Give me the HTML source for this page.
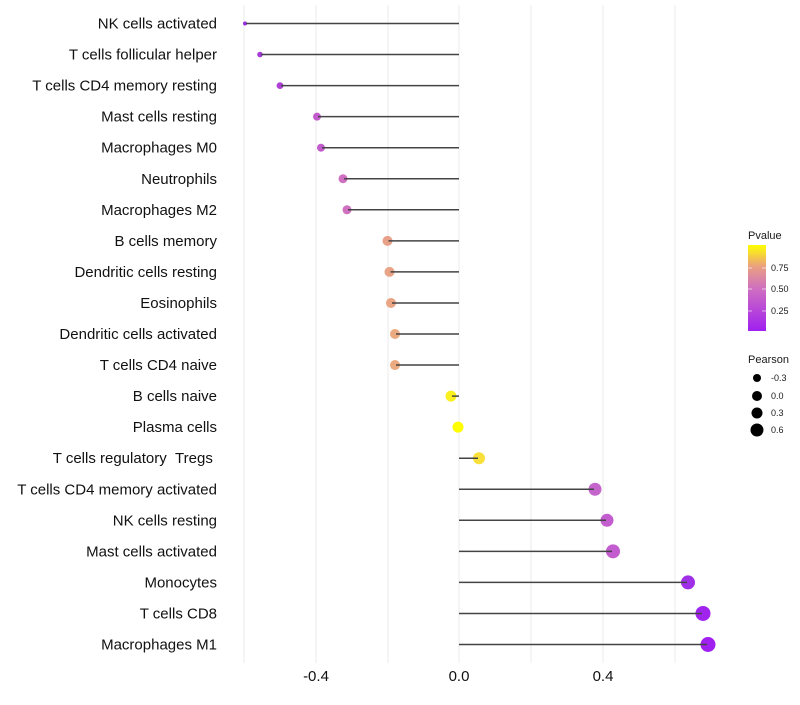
<!DOCTYPE html>
<html><head><meta charset="utf-8"><style>
html,body{margin:0;padding:0;background:#fff}
svg text{font-family:"Liberation Sans",sans-serif}
</style></head><body>
<svg width="800" height="700" viewBox="0 0 800 700" xmlns="http://www.w3.org/2000/svg">
<defs><linearGradient id="g" x1="0" y1="1" x2="0" y2="0">
<stop offset="0" stop-color="#a020f0"/><stop offset="0.5" stop-color="#d070c0"/><stop offset="0.75" stop-color="#eaa080"/><stop offset="1" stop-color="#ffff00"/></linearGradient></defs>
<g stroke="#ebebeb" stroke-width="1">
<line x1="244" y1="5" x2="244" y2="663"/><line x1="316" y1="5" x2="316" y2="663"/><line x1="388" y1="5" x2="388" y2="663"/><line x1="459" y1="5" x2="459" y2="663"/><line x1="531" y1="5" x2="531" y2="663"/><line x1="603" y1="5" x2="603" y2="663"/><line x1="675" y1="5" x2="675" y2="663"/>
</g>
<g id="pts"></g>
<g font-size="15" fill="#111" text-anchor="end" id="labs"></g>
<g font-size="15" fill="#111" text-anchor="middle">
<text x="316" y="681">-0.4</text><text x="459" y="681">0.0</text><text x="603" y="681">0.4</text>
</g>
<text x="748" y="239" font-size="11" fill="#1a1a1a">Pvalue</text>
<rect x="748" y="245" width="18" height="86" fill="url(#g)"/>
<g stroke="#fff" stroke-opacity="0.6"><line x1="748" y1="268" x2="752" y2="268"/><line x1="762" y1="268" x2="766" y2="268"/><line x1="748" y1="289" x2="752" y2="289"/><line x1="762" y1="289" x2="766" y2="289"/><line x1="748" y1="311" x2="752" y2="311"/><line x1="762" y1="311" x2="766" y2="311"/></g>
<g font-size="9" fill="#1a1a1a"><text x="771" y="271">0.75</text><text x="771" y="292">0.50</text><text x="771" y="314">0.25</text></g>
<text x="748" y="363" font-size="11" fill="#1a1a1a">Pearson</text>
<g fill="#000"><circle cx="757" cy="378" r="4"/><circle cx="757" cy="396" r="5"/><circle cx="757" cy="413" r="5.5"/><circle cx="757" cy="430" r="6.5"/></g>
<g font-size="9" fill="#1a1a1a"><text x="771" y="381">-0.3</text><text x="771" y="399">0.0</text><text x="771" y="416">0.3</text><text x="771" y="433">0.6</text></g>
<script>
var d=[["NK cells activated",245,2,"#9a2be0"],["T cells follicular helper",260,2.8,"#a53ad8"],["T cells CD4 memory resting",280,3.4,"#ae40d5"],["Mast cells resting",317,4,"#c25ccc"],["Macrophages M0",321,4,"#c25ccc"],["Neutrophils",343,4.5,"#d070c0"],["Macrophages M2",347,4.5,"#d070c0"],["B cells memory",387.5,5,"#e8a088"],["Dendritic cells resting",389.5,5,"#e9a386"],["Eosinophils",391,5,"#eaa584"],["Dendritic cells activated",395,5,"#ecaa80"],["T cells CD4 naive",395,5,"#ecaa80"],["B cells naive",451,5.5,"#faf020"],["Plasma cells",458,5.5,"#ffff00"],["T cells regulatory \u00a0Tregs\u00a0",479,6,"#f9e03a"],["T cells CD4 memory activated",595,6.5,"#c465cc"],["NK cells resting",607,6.5,"#c25ccf"],["Mast cells activated",613,7,"#c25ccf"],["Monocytes",688,7,"#a030e8"],["T cells CD8",703,7.5,"#a024ee"],["Macrophages M1",708,7.5,"#a020f0"]];
var ns="http://www.w3.org/2000/svg",P=document.getElementById("pts"),L=document.getElementById("labs");
d.forEach(function(r,i){var y=23.5+i*31.05;
var c=document.createElementNS(ns,"circle");c.setAttribute("cx",r[1]);c.setAttribute("cy",y);c.setAttribute("r",r[2]);c.setAttribute("fill",r[3]);P.appendChild(c);
var l=document.createElementNS(ns,"line");var e=r[1]<459?r[1]+1:r[1]-1;l.setAttribute("x1",459);l.setAttribute("x2",e);l.setAttribute("y1",y);l.setAttribute("y2",y);l.setAttribute("stroke","#444");l.setAttribute("stroke-width","1.5");P.appendChild(l);
var t=document.createElementNS(ns,"text");t.setAttribute("x",217);t.setAttribute("y",y+5);t.textContent=r[0];L.appendChild(t);});
</script>
</svg>
</body></html>
